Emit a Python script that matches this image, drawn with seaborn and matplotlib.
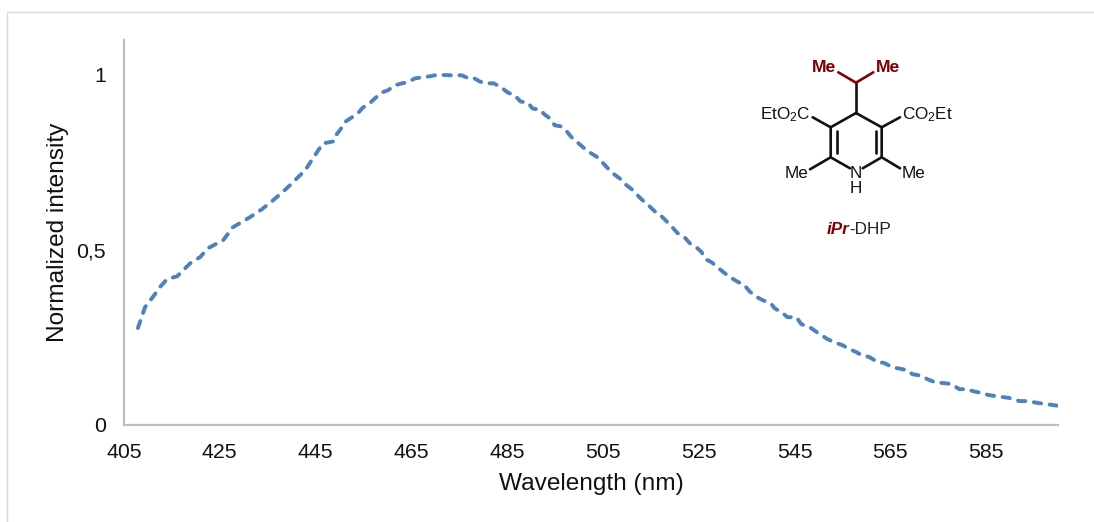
import matplotlib
matplotlib.use('Agg')
import matplotlib.pyplot as plt
import pandas as pd
import seaborn as sns

# values
wavelength = [407.9, 409.4, 411.0, 412.5, 414.0, 416.1, 418.8, 420.9, 422.5, 425.7,
              427.7, 431.3, 433.8, 436.1, 439.0, 442.8, 446.5, 448.8, 449.4, 450.5,
              451.3, 452.6, 453.8, 454.9, 456.3, 457.4, 458.8, 460.1, 461.5, 463.0,
              464.2, 465.7, 467.2, 468.8, 470.3, 471.5, 473.4, 475.5, 476.5, 477.8,
              479.3, 480.7, 482.2, 483.8, 485.1, 486.6, 487.8, 489.3, 490.3, 491.8,
              492.8, 493.9, 494.9, 496.2, 497.4, 498.5, 499.7, 501.6, 503.9, 505.8,
              507.0, 508.5, 509.7, 511.0, 512.2, 513.3, 514.5, 515.8, 517.2, 518.3,
              519.5, 520.6, 522.0, 523.1, 524.5, 525.6, 526.4, 527.7, 528.9, 530.4,
              531.6, 532.9, 534.5, 535.6, 536.8, 538.3, 540.0, 540.8, 542.5, 543.5,
              545.4, 546.4, 548.1, 550.2, 551.9, 553.7, 555.0, 556.4, 557.9, 558.9,
              560.6, 562.3, 563.7, 565.4, 568.3, 569.6, 571.5, 572.7, 574.6, 575.8,
              577.7, 579.4, 580.8, 582.1, 584.0, 585.6, 587.1, 589.8, 591.9, 593.6,
              596.1, 599.8]
intensity = [0.276, 0.336, 0.364, 0.393, 0.416, 0.424, 0.461, 0.479, 0.504, 0.527,
             0.564, 0.593, 0.616, 0.641, 0.676, 0.727, 0.804, 0.810, 0.830, 0.850,
             0.867, 0.879, 0.890, 0.907, 0.919, 0.933, 0.950, 0.956, 0.970, 0.976,
             0.979, 0.990, 0.993, 0.996, 1.000, 1.000, 0.999, 0.999, 0.993, 0.993,
             0.981, 0.976, 0.976, 0.964, 0.950, 0.941, 0.924, 0.921, 0.904, 0.901,
             0.887, 0.876, 0.856, 0.853, 0.839, 0.821, 0.807, 0.784, 0.764, 0.736,
             0.719, 0.704, 0.687, 0.673, 0.656, 0.641, 0.627, 0.610, 0.596, 0.581,
             0.564, 0.547, 0.536, 0.519, 0.507, 0.493, 0.473, 0.464, 0.450, 0.433,
             0.421, 0.410, 0.399, 0.381, 0.367, 0.356, 0.347, 0.333, 0.319, 0.307,
             0.307, 0.287, 0.279, 0.259, 0.244, 0.233, 0.227, 0.216, 0.207, 0.199,
             0.193, 0.179, 0.176, 0.164, 0.156, 0.144, 0.139, 0.130, 0.119, 0.119,
             0.116, 0.101, 0.101, 0.096, 0.090, 0.084, 0.081, 0.076, 0.067, 0.067,
             0.061, 0.054]
x_ticks = [405, 425, 445, 465, 485, 505, 525, 545, 565, 585]
y_ticks = [0, 0.5, 1]
y_tick_labels = ['0', '0,5', '1']

W, H = 1094, 522
DARK_RED = '#7F0000'

sns.set_theme(style='white')
plt.rcParams['font.family'] = ['Liberation Sans', 'DejaVu Sans']
plt.rcParams['mathtext.default'] = 'regular'

df = pd.DataFrame({'wavelength': wavelength, 'intensity': intensity})

fig = plt.figure(figsize=(W / 100, H / 100), dpi=100)
ax = fig.add_axes([124 / W, 1 - 424.5 / H, 934 / W, 384.5 / H])

sns.lineplot(data=df, x='wavelength', y='intensity', ax=ax, color='#4F81BD',
             linewidth=2.8, linestyle=(0, (1.9, 2.2)), dash_capstyle='round',
             errorbar=None)

ax.set_xlim(405, 600)
ax.set_ylim(0, 1.1)
ax.set_xticks(x_ticks)
ax.set_yticks(y_ticks)
ax.set_yticklabels(y_tick_labels)
ax.tick_params(axis='x', length=0, pad=13, labelsize=15.3, labelcolor='#111111')
ax.tick_params(axis='y', length=0, pad=13, labelsize=15.3, labelcolor='#111111')
ax.set_xlabel('Wavelength (nm)', fontsize=17.6, color='#111111', labelpad=8)
ax.set_ylabel('Normalized intensity', fontsize=17.6, color='#111111', labelpad=5)
sns.despine(ax=ax)
for side in ['left', 'bottom']:
    ax.spines[side].set_color('#BFBFBF')
    ax.spines[side].set_linewidth(1.6)

# overlay in pixel coordinates for the frame and the structure drawing
ov = fig.add_axes([0, 0, 1, 1], facecolor='none')
ov.set_xlim(0, W)
ov.set_ylim(H, 0)
ov.axis('off')

ov.plot([7, 7, W], [H, 11.5, 11.5], color='#D9D9D9', lw=1.0, solid_joinstyle='miter')

black_bonds = [
    [(856, 113), (830.7, 127.3), (830.7, 157.3), (850, 168.3)],
    [(856, 113), (881.7, 127.3), (881.7, 157.3), (862.7, 168.3)],
    [(836.5, 131), (836.5, 153)],
    [(876, 131), (876, 153)],
    [(830.7, 127.3), (812.7, 117.3)],
    [(881.7, 127.3), (900, 117.3)],
    [(830.7, 157.3), (810, 169.3)],
    [(881.7, 157.3), (900, 168.3)],
    [(856, 113), (856, 82.7)],
]
for bond in black_bonds:
    ov.plot(*zip(*bond), color='#111111', lw=1.9, solid_capstyle='round')
ov.plot([838.3, 856, 873.3], [72.3, 82.7, 72.3], color=DARK_RED, lw=1.9,
        solid_capstyle='round')

mol = dict(fontsize=12.3, color='#111111', va='center')
ov.text(810.5, 115, 'EtO$_2$C', ha='right', **mol)
ov.text(902, 115, 'CO$_2$Et', ha='left', **mol)
ov.text(808, 174, 'Me', ha='right', **mol)
ov.text(902, 174, 'Me', ha='left', **mol)
ov.text(856, 174, 'N', ha='center', **mol)
ov.text(856, 188.5, 'H', ha='center', **mol)
ov.text(836.5, 68, 'Me', ha='right', va='center', fontsize=12.6, color=DARK_RED, fontweight='bold')
ov.text(875.5, 68, 'Me', ha='left', va='center', fontsize=12.6, color=DARK_RED, fontweight='bold')
ov.text(849.5, 230, 'iPr', ha='right', va='center', fontsize=12.3, color=DARK_RED,
        fontweight='bold', fontstyle='italic')
ov.text(849, 230, '-DHP', ha='left', va='center', fontsize=12.3, color='#222222')

fig.savefig('out.png', dpi=100, facecolor='white')
